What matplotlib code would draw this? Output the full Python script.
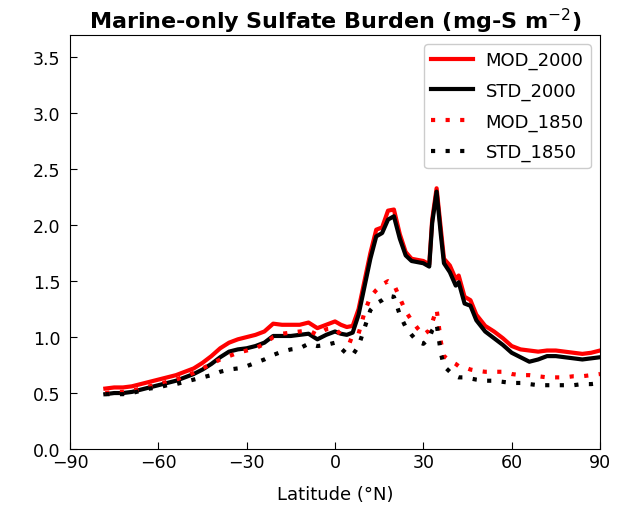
import matplotlib
matplotlib.use("Agg")
import matplotlib.pyplot as plt

# Zonal-mean marine sulfate burden (mg-S m^-2) by latitude
lat = [-78, -75, -72, -69, -66, -63, -60, -57, -54, -51, -48, -45, -42, -39,
       -36, -33, -30, -27, -24, -21, -18, -15, -12, -9, -6, -3, 0,
       2, 4, 6, 8, 10, 12, 14, 16, 18, 20, 22, 24, 26, 28, 30, 32,
       33, 34.5, 36, 37, 39, 41, 42, 44, 46, 48,
       51, 54, 57, 60, 63, 66, 69, 72, 75, 78, 81, 84, 87, 90]

mod_2000 = [0.54, 0.55, 0.55, 0.56, 0.58, 0.60, 0.62, 0.64, 0.66, 0.69, 0.72, 0.77, 0.83, 0.90,
            0.95, 0.98, 1.00, 1.02, 1.05, 1.12, 1.11, 1.11, 1.11, 1.13, 1.08, 1.11, 1.14,
            1.11, 1.09, 1.10, 1.25, 1.50, 1.75, 1.96, 1.98, 2.13, 2.14, 1.92, 1.76, 1.70, 1.69, 1.68, 1.65,
            2.05, 2.33, 1.95, 1.70, 1.64, 1.52, 1.55, 1.36, 1.33, 1.20,
            1.10, 1.05, 0.99, 0.92, 0.89, 0.88, 0.87, 0.88, 0.88, 0.87, 0.86, 0.85, 0.86, 0.88]

std_2000 = [0.49, 0.50, 0.50, 0.51, 0.53, 0.55, 0.57, 0.59, 0.61, 0.64, 0.67, 0.71, 0.76, 0.82,
            0.87, 0.89, 0.90, 0.92, 0.95, 1.01, 1.01, 1.01, 1.02, 1.03, 0.98, 1.02, 1.05,
            1.03, 1.02, 1.04, 1.20, 1.45, 1.70, 1.90, 1.93, 2.05, 2.08, 1.88, 1.73, 1.68, 1.67, 1.66, 1.63,
            2.02, 2.30, 1.90, 1.66, 1.58, 1.46, 1.49, 1.30, 1.28, 1.15,
            1.05, 0.99, 0.93, 0.86, 0.82, 0.78, 0.80, 0.83, 0.83, 0.82, 0.81, 0.80, 0.81, 0.82]

mod_1850 = [0.50, 0.51, 0.51, 0.52, 0.54, 0.56, 0.58, 0.60, 0.62, 0.65, 0.68, 0.72, 0.76, 0.80,
            0.83, 0.86, 0.88, 0.90, 0.94, 1.00, 1.03, 1.04, 1.05, 1.06, 1.02, 1.07, 1.08,
            1.02, 0.98, 0.96, 1.03, 1.22, 1.36, 1.42, 1.47, 1.50, 1.47, 1.35, 1.23, 1.15, 1.08, 1.02, 1.06,
            1.13, 1.25, 0.95, 0.83, 0.79, 0.76, 0.74, 0.73, 0.71, 0.70,
            0.69, 0.69, 0.69, 0.67, 0.66, 0.66, 0.65, 0.64, 0.64, 0.64, 0.65, 0.65, 0.66, 0.67]

std_1850 = [0.49, 0.49, 0.49, 0.50, 0.52, 0.54, 0.55, 0.57, 0.58, 0.60, 0.62, 0.64, 0.66, 0.69,
            0.71, 0.72, 0.74, 0.77, 0.80, 0.84, 0.87, 0.89, 0.90, 0.94, 0.92, 0.93, 0.95,
            0.90, 0.85, 0.84, 0.92, 1.08, 1.24, 1.30, 1.33, 1.37, 1.36, 1.20, 1.09, 1.02, 0.96, 0.94, 0.99,
            1.06, 1.12, 0.85, 0.74, 0.69, 0.65, 0.64, 0.64, 0.63, 0.62,
            0.61, 0.61, 0.60, 0.59, 0.59, 0.58, 0.57, 0.57, 0.57, 0.57, 0.57, 0.58, 0.58, 0.59]

x_ticks = [-90, -60, -30, 0, 30, 60, 90]
y_ticks = [0.0, 0.5, 1.0, 1.5, 2.0, 2.5, 3.0, 3.5]

plt.rcParams["font.family"] = ["DejaVu Sans"]

fig = plt.figure(figsize=(6.18, 5.06), dpi=100)
ax = fig.add_axes([0.1133, 0.1107, 0.8576, 0.8182])

dot = (0, (1, 2.5))
ax.plot(lat, mod_2000, color="red", lw=3, label="MOD_2000")
ax.plot(lat, std_2000, color="black", lw=3, label="STD_2000")
ax.plot(lat, mod_1850, color="red", lw=3, linestyle=dot, label="MOD_1850")
ax.plot(lat, std_1850, color="black", lw=3, linestyle=dot, label="STD_1850")

ax.set_xlim(-90, 90)
ax.set_ylim(0, 3.7)
ax.set_xticks(x_ticks)
ax.set_yticks(y_ticks)
ax.set_xticklabels([f"{t}".replace("-", "\u2212") for t in x_ticks])
ax.tick_params(direction="in", labelsize=12.5, length=5, top=False, right=False)
ax.tick_params(axis="x", pad=3)
ax.tick_params(axis="y", pad=7)
ax.set_xlabel("Latitude (°N)", fontsize=13, labelpad=10)
ax.set_title("Marine-only Sulfate Burden (mg-S m$^{-2}$)", fontsize=16,
             fontweight="bold", pad=5)

ax.legend(loc="upper right", fontsize=13, handlelength=2.3, handletextpad=0.7,
          labelspacing=0.68, framealpha=1, borderaxespad=0.5)

fig.savefig("out.png", dpi=100)
